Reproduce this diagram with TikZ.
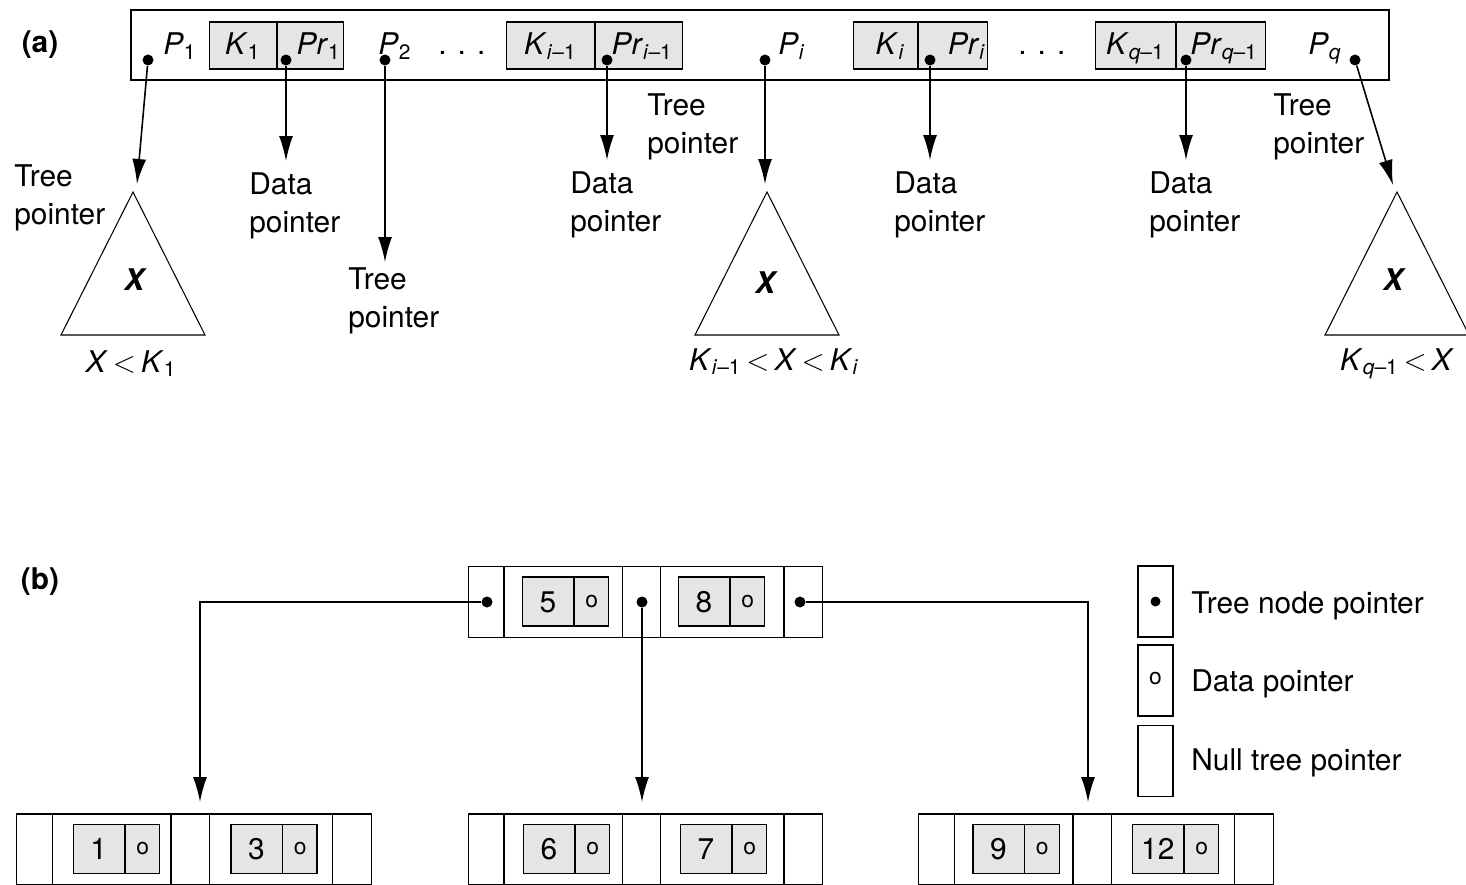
\documentclass[tikz,border=0pt]{standalone}
\usepackage{fontspec}
\setmainfont{TeX Gyre Heros}
\usetikzlibrary{shapes,arrows.meta}

\newcommand{\acell}[3]{\makebox[#1cm][#2]{\rule[-0.28cm]{0pt}{0.94cm}#3}}
\newcommand{\bcell}[2]{\makebox[#1cm]{\rule[-0.28cm]{0pt}{0.98cm}#2}}
\newcommand{\pcell}[1]{\makebox[#1cm]{\rule[-0.71cm]{0pt}{1.42cm}}}
\newcommand{\dptr}{\raisebox{0.1cm}{\fontsize{13}{15}\selectfont o}}
\newcommand{\lt}{\,$<$\,}
\newcommand{\bparts}{\pcell{0.70}\nodepart{two}\pcell{2.34}\nodepart{three}\pcell{0.74}\nodepart{four}\pcell{2.44}\nodepart{five}\pcell{0.76}}
\newcommand{\keyparts}[1]{\bcell{1.02}{#1}\nodepart{two}\bcell{0.68}{\dptr}}

\begin{document}
\begin{tikzpicture}[x=0.02cm,y=-0.02cm,font=\fontsize{17}{21.6}\selectfont]
      \tikzstyle{kbox}=[rectangle split, rectangle split horizontal, rectangle split parts=2, draw, fill=gray!20, inner sep=0pt, line width=0.8pt]
      \tikzstyle{bnode}=[rectangle split, rectangle split horizontal, rectangle split parts=5, draw, inner sep=0pt, line width=0.8pt]
      \tikzstyle{lcell}=[draw, inner sep=0pt, minimum width=0.7cm, minimum height=1.42cm, line width=0.8pt]
      \tikzstyle{dot}=[circle, fill, inner sep=0pt, minimum size=0.22cm]
      \tikzstyle{ptr}=[-{Latex[length=0.5cm,width=0.28cm]}, line width=0.9pt]
      \tikzstyle{tri}=[line width=0.6pt]
      \tikzstyle{lbl}=[inner sep=0pt, align=left, anchor=north west]
      \tikzstyle{sub}=[inner sep=0pt, anchor=base west]
      \useasboundingbox (0,0) rectangle (1466,885);

      % (a) node with q tree pointers
      \node[font=\fontsize{17}{20}\bfseries] (ta) at (40,45) {(a)};
      \node[draw, line width=0.8pt, minimum width=25.16cm, minimum height=1.4cm] (abox) at (760,45) {};
      \node[kbox] (ka1) at (276.5,45.5) {\acell{1.34}{c}{\textit{K}\textsubscript{1}} \nodepart{two} \acell{1.32}{r}{\textit{Pr}\textsubscript{1}\hspace{0.06cm}}};
      \node[kbox] (kaA) at (594.5,45.5) {\acell{1.76}{c}{\textit{K}\textsubscript{\textit{i}--1}} \nodepart{two} \acell{1.74}{r}{\textit{Pr}\textsubscript{\textit{i}--1}\hspace{0.2cm}}};
      \node[kbox] (kaB) at (920.5,45.5) {\acell{1.28}{c}{\hspace{0.2cm}\textit{K}\textsubscript{\textit{i}}} \nodepart{two} \acell{1.38}{r}{\textit{Pr}\textsubscript{\textit{i}}\hspace{0.04cm}}};
      \node[kbox] (kaC) at (1180.5,45.5) {\acell{1.60}{c}{\textit{K}\textsubscript{\textit{q}--1}} \nodepart{two} \acell{1.78}{r}{\textit{Pr}\textsubscript{\textit{q}--1}\hspace{0.16cm}}};
      \node[sub] (lP1) at (163,55) {\textit{P}\textsubscript{1}};
      \node[sub] (lP2) at (378,55) {\textit{P}\textsubscript{2}};
      \node[sub] (lPi) at (778,55) {\textit{P}\textsubscript{\textit{i}}};
      \node[sub] (lPq) at (1308,55) {\textit{P}\textsubscript{\textit{q}}};
      \node[sub] (gap1) at (438,55) {. . .};
      \node[sub] (gap2) at (1018,55) {. . .};

      \node[dot] (dP1) at (148,60) {};
      \node[dot] (dPr1) at (286,60) {};
      \node[dot] (dP2) at (385,60) {};
      \node[dot] (dPrA) at (607,60) {};
      \node[dot] (dPi) at (765,60) {};
      \node[dot] (dPrB) at (930,60) {};
      \node[dot] (dPrC) at (1186,60) {};
      \node[dot] (dPq) at (1355,60) {};
      \coordinate (eP1) at (137,184);
      \coordinate (ePr1) at (286,161);
      \coordinate (eP2) at (385,262);
      \coordinate (ePrA) at (607,160);
      \coordinate (ePi) at (765,184);
      \coordinate (ePrB) at (930,160);
      \coordinate (ePrC) at (1186,160);
      \coordinate (ePq) at (1393,185);
      \foreach \p in {P1,Pr1,P2,PrA,Pi,PrB,PrC,Pq}
        \draw[ptr] (d\p) -- (e\p);

      \coordinate (tA) at (133,192);
      \coordinate (tB) at (767,192);
      \coordinate (tC) at (1397,192);
      \foreach \t in {tA,tB,tC}
        \draw[tri] (\t) -- ++(-72,143) -- ++(144,0) -- cycle;
      \node[font=\fontsize{17}{20}\bfseries\itshape] (xA) at (134,280) {X};
      \node[font=\fontsize{17}{20}\bfseries\itshape] (xB) at (765,283) {X};
      \node[font=\fontsize{17}{20}\bfseries\itshape] (xC) at (1393,280) {X};
      \node[anchor=base] (cA) at (131,372) {\textit{X}\lt\textit{K}\textsubscript{1}};
      \node[anchor=base] (cB) at (774,370) {\textit{K}\textsubscript{\textit{i}--1}\lt\textit{X}\lt\textit{K}\textsubscript{\textit{i}}};
      \node[anchor=base] (cC) at (1397,370) {\textit{K}\textsubscript{\textit{q}--1}\lt\textit{X}};

      \node[lbl] (tp1) at (14,164) {Tree\\pointer};
      \node[lbl] (dp1) at (249,172) {Data\\pointer};
      \node[lbl] (tp2) at (348,267) {Tree\\pointer};
      \node[lbl] (dp2) at (570,171) {Data\\pointer};
      \node[lbl] (tp3) at (647,93) {Tree\\pointer};
      \node[lbl] (dp3) at (894,171) {Data\\pointer};
      \node[lbl] (dp4) at (1149,171) {Data\\pointer};
      \node[lbl] (tp4) at (1273,93) {Tree\\pointer};

      % (b) a small B-tree
      \node[font=\fontsize{17}{20}\bfseries] (tb) at (40,582) {(b)};
      \node[bnode] (root) at (645.5,602) {\bparts};
      \node[bnode] (nl) at (194,849.5) {\bparts};
      \node[bnode] (nm) at (645.5,849.5) {\bparts};
      \node[bnode] (nr) at (1096,849.5) {\bparts};
      \foreach \v/\x/\y in {5/565.5/601.5, 8/721.5/601.5, 1/116.5/849, 3/274/849, 6/566.5/849, 7/723.5/849, 9/1016/849, 12/1175.5/849}
        \node[kbox] (kb\v) at (\x,\y) {\keyparts{\v}};
      \node[dot] (rd1) at (487,602) {};
      \node[dot] (rd2) at (642,602) {};
      \node[dot] (rd3) at (800,602) {};
      \coordinate (el) at (200,802);
      \coordinate (em) at (642,802);
      \coordinate (er) at (1088,802);
      \draw[ptr] (rd1) -| (el);
      \draw[ptr] (rd2) -- (em);
      \draw[ptr] (rd3) -| (er);

      \node[lcell] (lg1) at (1155.5,601.5) {};
      \node[lcell] (lg2) at (1155.5,680.5) {\dptr};
      \node[lcell] (lg3) at (1155.5,761) {};
      \node[dot, minimum size=0.2cm] (lgd) at (lg1) {};
      \node[sub] (lt1) at (1191,613) {Tree node pointer};
      \node[sub] (lt2) at (1191,691) {Data pointer};
      \node[sub] (lt3) at (1191,770) {Null tree pointer};
\end{tikzpicture}
\end{document}
